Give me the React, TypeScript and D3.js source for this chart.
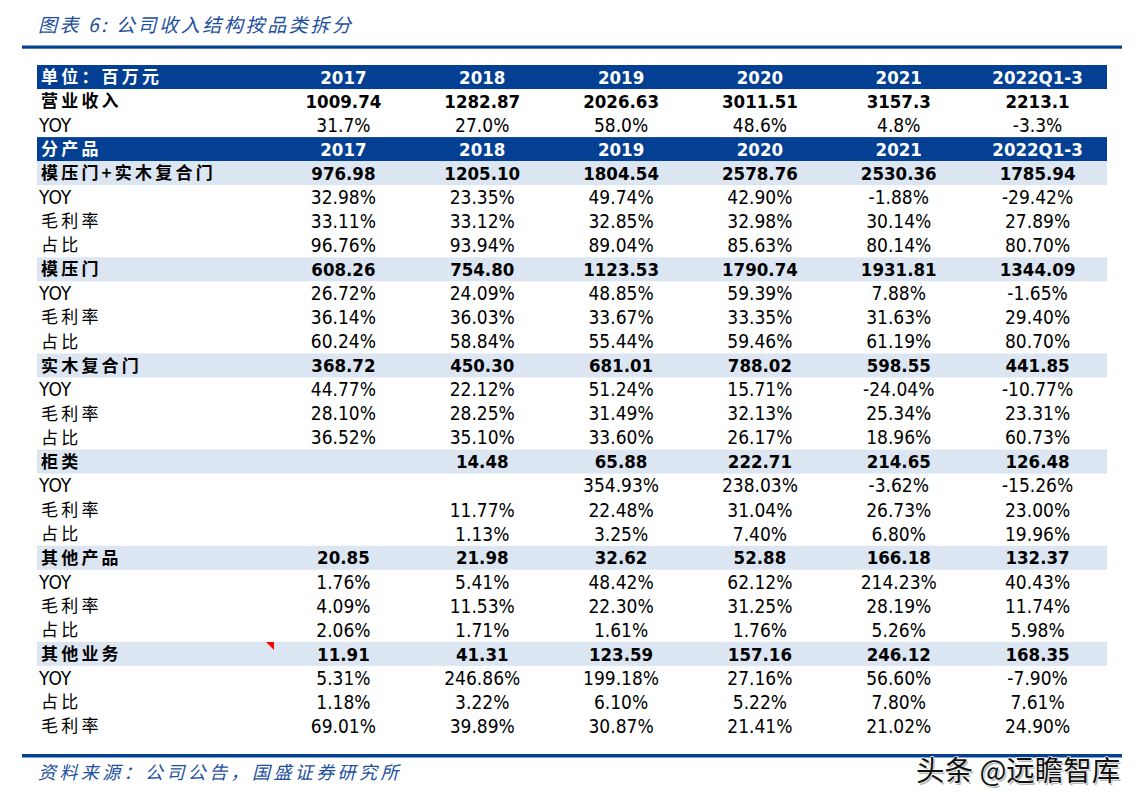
import React from "react";
import * as d3 from "d3";

const years = ["2017", "2018", "2019", "2020", "2021", "2022Q1-3"];
const revenue = ["1009.74", "1282.87", "2026.63", "3011.51", "3157.3", "2213.1"];
const revenueYoy = ["31.7%", "27.0%", "58.0%", "48.6%", "4.8%", "-3.3%"];

const moldedSolidTotal = [976.98, 1205.1, 1804.54, 2578.76, 2530.36, 1785.94];
const moldedSolidYoy = [32.98, 23.35, 49.74, 42.9, -1.88, -29.42];
const moldedSolidGm = [33.11, 33.12, 32.85, 32.98, 30.14, 27.89];
const moldedSolidShare = [96.76, 93.94, 89.04, 85.63, 80.14, 80.7];

const moldedTotal = [608.26, 754.8, 1123.53, 1790.74, 1931.81, 1344.09];
const moldedYoy = [26.72, 24.09, 48.85, 59.39, 7.88, -1.65];
const moldedGm = [36.14, 36.03, 33.67, 33.35, 31.63, 29.4];
const moldedShare = [60.24, 58.84, 55.44, 59.46, 61.19, 80.7];

const solidTotal = [368.72, 450.3, 681.01, 788.02, 598.55, 441.85];
const solidYoy = [44.77, 22.12, 51.24, 15.71, -24.04, -10.77];
const solidGm = [28.1, 28.25, 31.49, 32.13, 25.34, 23.31];
const solidShare = [36.52, 35.1, 33.6, 26.17, 18.96, 60.73];

const cabinetTotal = [null, 14.48, 65.88, 222.71, 214.65, 126.48];
const cabinetYoy = [null, null, 354.93, 238.03, -3.62, -15.26];
const cabinetGm = [null, 11.77, 22.48, 31.04, 26.73, 23.0];
const cabinetShare = [null, 1.13, 3.25, 7.4, 6.8, 19.96];

const otherProdTotal = [20.85, 21.98, 32.62, 52.88, 166.18, 132.37];
const otherProdYoy = [1.76, 5.41, 48.42, 62.12, 214.23, 40.43];
const otherProdGm = [4.09, 11.53, 22.3, 31.25, 28.19, 11.74];
const otherProdShare = [2.06, 1.71, 1.61, 1.76, 5.26, 5.98];

const otherBizTotal = [11.91, 41.31, 123.59, 157.16, 246.12, 168.35];
const otherBizYoy = [5.31, 246.86, 199.18, 27.16, 56.6, -7.9];
const otherBizShare = [1.18, 3.22, 6.1, 5.22, 7.8, 7.61];
const otherBizGm = [69.01, 39.89, 30.87, 21.41, 21.02, 24.9];

type Row = { label: string; kind: "head" | "band" | "bold" | "plain"; cells: string[] };

const num = (a: (number | null)[]) => a.map((v) => (v == null ? "" : v.toFixed(2)));
const pct = (a: (number | null)[]) => a.map((v) => (v == null ? "" : v.toFixed(2) + "%"));

const rows: Row[] = [
  { label: "单位：百万元", kind: "head", cells: years },
  { label: "营业收入", kind: "bold", cells: revenue },
  { label: "YOY", kind: "plain", cells: revenueYoy },
  { label: "分产品", kind: "head", cells: years },
  { label: "模压门+实木复合门", kind: "band", cells: num(moldedSolidTotal) },
  { label: "YOY", kind: "plain", cells: pct(moldedSolidYoy) },
  { label: "毛利率", kind: "plain", cells: pct(moldedSolidGm) },
  { label: "占比", kind: "plain", cells: pct(moldedSolidShare) },
  { label: "模压门", kind: "band", cells: num(moldedTotal) },
  { label: "YOY", kind: "plain", cells: pct(moldedYoy) },
  { label: "毛利率", kind: "plain", cells: pct(moldedGm) },
  { label: "占比", kind: "plain", cells: pct(moldedShare) },
  { label: "实木复合门", kind: "band", cells: num(solidTotal) },
  { label: "YOY", kind: "plain", cells: pct(solidYoy) },
  { label: "毛利率", kind: "plain", cells: pct(solidGm) },
  { label: "占比", kind: "plain", cells: pct(solidShare) },
  { label: "柜类", kind: "band", cells: num(cabinetTotal) },
  { label: "YOY", kind: "plain", cells: pct(cabinetYoy) },
  { label: "毛利率", kind: "plain", cells: pct(cabinetGm) },
  { label: "占比", kind: "plain", cells: pct(cabinetShare) },
  { label: "其他产品", kind: "band", cells: num(otherProdTotal) },
  { label: "YOY", kind: "plain", cells: pct(otherProdYoy) },
  { label: "毛利率", kind: "plain", cells: pct(otherProdGm) },
  { label: "占比", kind: "plain", cells: pct(otherProdShare) },
  { label: "其他业务", kind: "band", cells: num(otherBizTotal) },
  { label: "YOY", kind: "plain", cells: pct(otherBizYoy) },
  { label: "占比", kind: "plain", cells: pct(otherBizShare) },
  { label: "毛利率", kind: "plain", cells: pct(otherBizGm) },
];

const NAVY = "#033f93";
const BAND = "#dce6f2";
const TITLE_BLUE = "#1d4f9e";
const NUM_FONT = "'DejaVu Sans Condensed', 'DejaVu Sans', sans-serif";
const CJK_FONT = "'Noto Sans CJK SC', sans-serif";

export default function App() {
  const W = 1148, H = 807;
  const tableLeft = 37, labelRight = 274, tableRight = 1107;
  const y = d3.scaleBand<number>().domain(d3.range(rows.length)).range([65, 738]);
  const x = d3.scaleBand<string>().domain(years).range([labelRight, tableRight]);
  const rh = y.bandwidth();

  return (
    <svg width={W} height={H} style={{ position: "absolute", left: 0, top: 0, background: "#fff" }}>
      <text x={38} y={32} fill={TITLE_BLUE} fontFamily={CJK_FONT} fontSize={19} fontStyle="italic" letterSpacing={2.6}>
        图表 6:  公司收入结构按品类拆分
      </text>
      <rect x={22} y={45.5} width={1100} height={3.2} fill={NAVY} />

      {rows.map((r, i) => {
        const top = y(i)!;
        const cy = top + rh / 2;
        const isHead = r.kind === "head";
        const bold = r.kind !== "plain";
        const fill = isHead ? "#fff" : "#000";
        const isCjk = /[\u4e00-\u9fff]/.test(r.label);
        return (
          <g key={i}>
            {isHead && <rect x={tableLeft} y={top} width={tableRight - tableLeft} height={rh} fill={NAVY} />}
            {r.kind === "band" && <rect x={tableLeft} y={top} width={tableRight - tableLeft} height={rh} fill={BAND} />}
            <text
              x={isCjk ? 41 : 39}
              y={cy}
              dy="0.36em"
              fill={fill}
              fontFamily={isCjk ? CJK_FONT : NUM_FONT}
              fontWeight={bold ? 700 : 400}
              fontSize={isCjk ? 17 : 19}
              letterSpacing={isCjk ? 3.2 : 0}
            >
              {r.label}
            </text>
            {r.cells.map((c, j) => (
              <text
                key={j}
                x={x(years[j])! + x.bandwidth() / 2}
                y={cy}
                dy="0.36em"
                textAnchor="middle"
                fill={fill}
                fontFamily={NUM_FONT}
                fontWeight={bold ? 700 : 400}
                fontSize={bold ? 18.5 : 19}
              >
                {c}
              </text>
            ))}
          </g>
        );
      })}

      <path d={`M${266},${642}L${274},${642}L${274},${650}Z`} fill="#ff0000" />

      <rect x={22} y={754} width={1100} height={3.5} fill={NAVY} />
      <text x={38} y={779} fill={TITLE_BLUE} fontFamily={CJK_FONT} fontSize={18} fontStyle="italic" letterSpacing={3.4}>
        资料来源：公司公告，国盛证券研究所
      </text>

      <text x={916} y={781} fill="#999" fontFamily={CJK_FONT} fontSize={28.5} opacity={0.7} transform="translate(1.5,1.5)">
        头条 @远瞻智库
      </text>
      <text x={916} y={781} fill="#111" stroke="#fff" strokeWidth={1.2} paintOrder="stroke" fontFamily={CJK_FONT} fontSize={28.5}>
        头条 @远瞻智库
      </text>
    </svg>
  );
}
